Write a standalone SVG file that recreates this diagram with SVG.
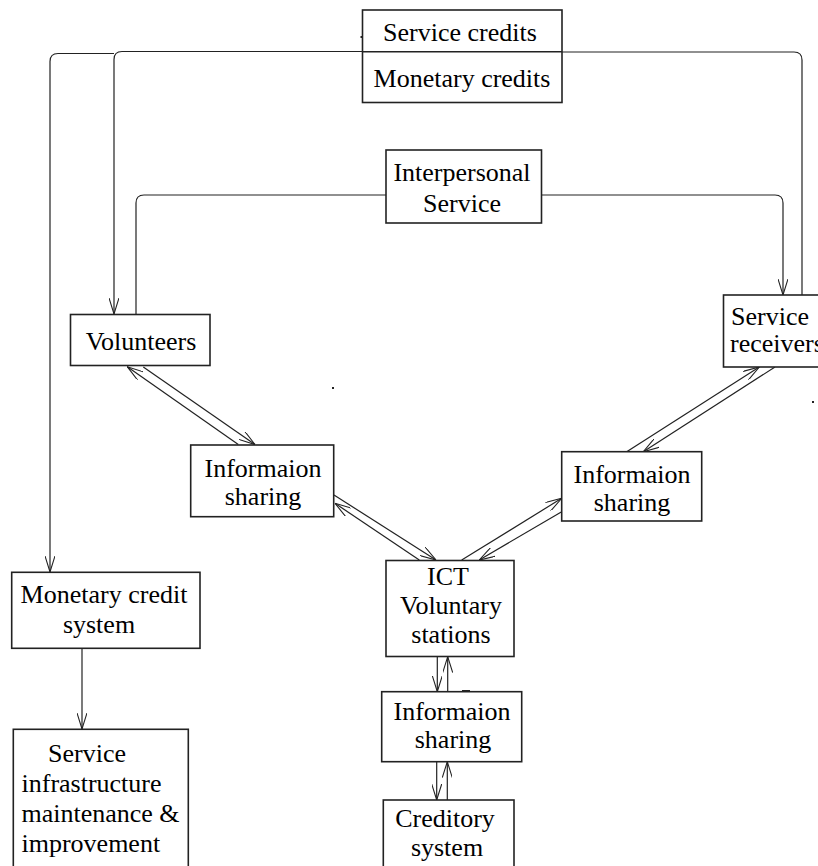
<svg xmlns="http://www.w3.org/2000/svg" width="818" height="866" viewBox="0 0 818 866">
<style>
.box{fill:#fff;stroke:#222;stroke-width:1.6}
.t{font-family:"Liberation Serif","Times New Roman",serif;font-size:26px;fill:#000}
.c{text-anchor:middle}
.ln{fill:none;stroke:#222;stroke-width:1.2}
.ar{marker-end:url(#ah)}
</style>
<defs>
<marker id="ah" viewBox="0 0 16 10" refX="16" refY="5" markerWidth="16" markerHeight="10" markerUnits="userSpaceOnUse" orient="auto">
<path d="M0,0 L16,5 L0,10" fill="none" stroke="#222" stroke-width="1.1"/>
</marker>
</defs>
<rect width="818" height="866" fill="#fff"/>
<g id="connectors">
<path class="ln ar" d="M362,51.5 H122 Q114,51.5 114,59.5 V314"/>
<path class="ln ar" d="M114,53.5 H58 Q50,53.5 50,61.5 V572"/>
<path class="ln" d="M562,52 H794 Q802,52 802,60 V295"/>
<path class="ln" d="M386,195 H144 Q136,195 136,203 V314"/>
<path class="ln ar" d="M541.5,195 H775 Q783,195 783,203 V295"/>
<path class="ln ar" d="M82,648 V729"/>
<path class="ln ar" d="M238.3,444.5 L127.3,366.7"/>
<path class="ln ar" d="M143.3,367 L255,444.5"/>
<path class="ln ar" d="M334,495 L436,560"/>
<path class="ln ar" d="M419.3,560 L335,503.3"/>
<path class="ln ar" d="M461.7,560 L561.7,498.3"/>
<path class="ln ar" d="M561.7,511.7 L479.3,560"/>
<path class="ln ar" d="M626.7,451.7 L759.3,367"/>
<path class="ln ar" d="M775,367 L643.3,451.7"/>
<path class="ln ar" d="M437.3,656.7 V691.7"/>
<path class="ln ar" d="M447.7,691.7 V656.7"/>
<path class="ln ar" d="M436.7,761.7 V800"/>
<path class="ln ar" d="M447.3,800 V761.7"/>
</g>
<g id="credits">
<rect class="box" x="362.5" y="10" width="199.5" height="92.5"/>
<line x1="362.5" y1="51.7" x2="562" y2="51.7" stroke="#222" stroke-width="1.6"/>
<text class="t c" x="460" y="41">Service credits</text>
<text class="t c" x="462" y="87">Monetary credits</text>
</g>
<g id="interpersonal">
<rect class="box" x="386" y="150" width="155.5" height="73"/>
<text class="t c" x="462" y="181">Interpersonal</text>
<text class="t c" x="462" y="212">Service</text>
</g>
<g id="volunteers">
<rect class="box" x="70.5" y="314.5" width="139.5" height="51"/>
<text class="t c" x="141" y="350">Volunteers</text>
</g>
<g id="receivers">
<rect class="box" x="723.5" y="295" width="110" height="72"/>
<text class="t" x="731" y="325">Service</text>
<text class="t" x="730" y="352">receivers</text>
</g>
<g id="info-left">
<rect class="box" x="190.7" y="445" width="143" height="71.7"/>
<text class="t c" x="263" y="477">Informaion</text>
<text class="t c" x="263" y="505">sharing</text>
</g>
<g id="info-right">
<rect class="box" x="561.7" y="451.7" width="140" height="69.3"/>
<text class="t c" x="632" y="483">Informaion</text>
<text class="t c" x="632" y="511">sharing</text>
</g>
<g id="ict">
<rect class="box" x="386" y="560.5" width="128" height="96"/>
<text class="t c" x="448" y="585">ICT</text>
<text class="t c" x="451" y="614">Voluntary</text>
<text class="t c" x="451" y="643">stations</text>
</g>
<g id="info-mid">
<rect class="box" x="381.7" y="691.7" width="140" height="70"/>
<text class="t c" x="452" y="720">Informaion</text>
<text class="t c" x="453" y="748">sharing</text>
</g>
<g id="creditory">
<rect class="box" x="383.3" y="800" width="130.7" height="80"/>
<text class="t c" x="445" y="827">Creditory</text>
<text class="t c" x="447" y="856">system</text>
</g>
<g id="monetary-system">
<rect class="box" x="11.7" y="572.3" width="188.3" height="76"/>
<text class="t c" x="104" y="603">Monetary credit</text>
<text class="t c" x="99" y="633">system</text>
</g>
<g id="infrastructure">
<rect class="box" x="13.3" y="729.3" width="175" height="150"/>
<text class="t" x="48" y="762">Service</text>
<text class="t" x="21.5" y="792">infrastructure</text>
<text class="t" x="21.5" y="822">maintenance &amp;</text>
<text class="t" x="21.5" y="852">improvement</text>
</g>
<g id="specks" fill="#222">
<rect x="332" y="387" width="2" height="2"/>
<rect x="812" y="401" width="2" height="2"/>
<rect x="360.5" y="36" width="2" height="2"/>
<rect x="462" y="690" width="8" height="2"/>
</g>
</svg>
